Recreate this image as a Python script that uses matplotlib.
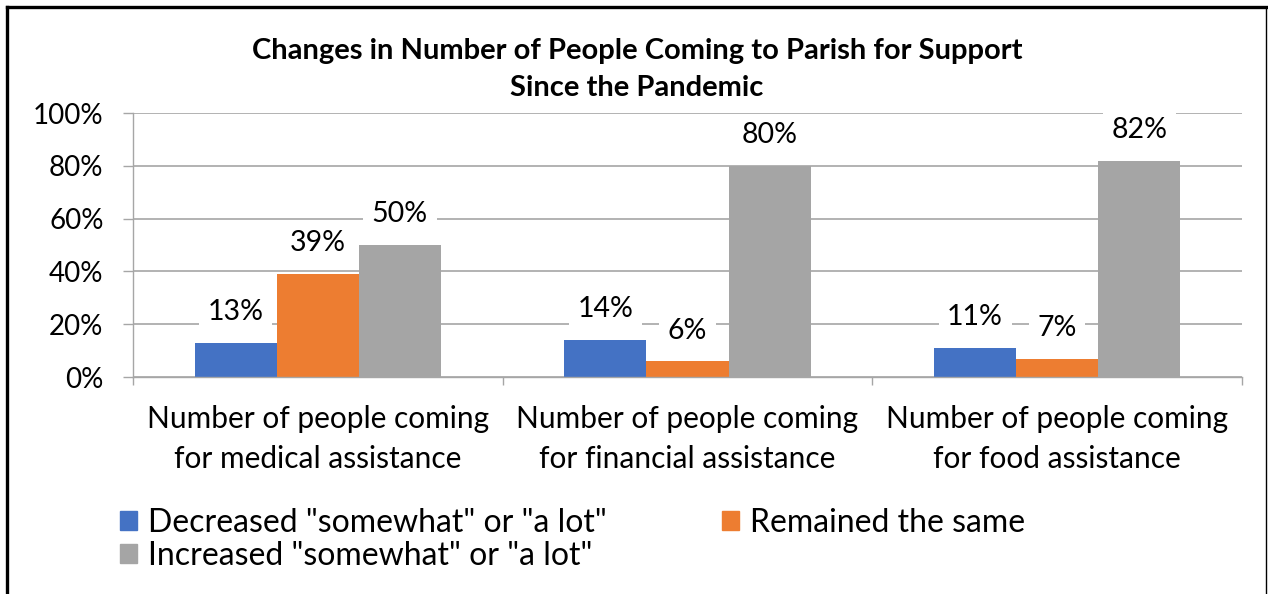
import matplotlib.pyplot as plt
import numpy as np
from matplotlib.patches import Patch
from matplotlib.lines import Line2D
from matplotlib.ticker import FixedLocator

plt.rcParams['font.family'] = ['Lato', 'DejaVu Sans']

categories = ['Number of people coming\nfor medical assistance',
              'Number of people coming\nfor financial assistance',
              'Number of people coming\nfor food assistance']
series_names = ['Decreased "somewhat" or "a lot"',
                'Remained the same',
                'Increased "somewhat" or "a lot"']
decreased = [13, 14, 11]
remained = [39, 6, 7]
increased = [50, 80, 82]
colors = ['#4472c4', '#ed7d31', '#a5a5a5']
yticks = [0, 20, 40, 60, 80, 100]

W, H = 1268, 594
fig = plt.figure(figsize=(W / 100, H / 100), dpi=100)
ax = fig.add_axes([133 / W, (H - 377) / H, (1242 - 133) / W, 264 / H])

x = np.arange(len(categories))
bw = 0.222
grid_c = '#a6a6a6'

for i, vals in enumerate([decreased, remained, increased]):
    bars = ax.bar(x + (i - 1) * bw, vals, bw, color=colors[i], zorder=2,
                  label=series_names[i])
    for b, v in zip(bars, vals):
        ax.annotate(f'{v}%', (b.get_x() + b.get_width() / 2, v),
                    xytext=(0, 22), textcoords='offset points',
                    ha='center', va='center', fontsize=20.5, zorder=4,
                    bbox=dict(boxstyle='square,pad=0.3', fc='white', ec='none'))

ax.set_xlim(-0.5, 2.5)
ax.set_ylim(0, 100)
ax.set_yticks(yticks)
ax.set_yticklabels([f'{t}%' for t in yticks])
ax.yaxis.grid(True, color=grid_c, lw=1.2, zorder=0)
ax.tick_params(axis='y', length=7.2, width=1.0, color=grid_c, pad=14,
               labelsize=20)

ax.set_xticks(x)
ax.set_xticklabels(categories, linespacing=1.5)
ax.tick_params(axis='x', which='major', length=0, pad=20.5, labelsize=21.5)
ax.xaxis.set_minor_locator(FixedLocator([-0.5, 0.5, 1.5, 2.5]))
ax.tick_params(axis='x', which='minor', length=6, width=1.0, color=grid_c)

for side in ['top', 'right']:
    ax.spines[side].set_visible(False)
for side in ['left', 'bottom']:
    ax.spines[side].set_color(grid_c)
    ax.spines[side].set_linewidth(1.0)

fig.text(637 / W, 1 - 51 / H, 'Changes in Number of People Coming to Parish for Support',
         ha='center', va='center', fontsize=21, fontweight='bold')
fig.text(637 / W, 1 - 88 / H, 'Since the Pandemic',
         ha='center', va='center', fontsize=21, fontweight='bold')

handles = [Patch(color=colors[0]), Patch(color=colors[2]), Patch(color=colors[1])]
labels = [series_names[0], series_names[2], series_names[1]]
fig.legend(handles, labels, ncol=2, loc='upper left',
           bbox_to_anchor=(120 / W, 1 - 508 / H), frameon=False,
           fontsize=23, handlelength=0.53, handleheight=0.53, handletextpad=0.35,
           columnspacing=3.6, labelspacing=0.1, borderaxespad=0, borderpad=0)

# outer border
fig.add_artist(Line2D([7 / W, 7 / W], [0, 1 - 7 / H], color='black', lw=2.4))
fig.add_artist(Line2D([7 / W, 1265.5 / W], [1 - 7 / H, 1 - 7 / H], color='black', lw=2.4))
fig.add_artist(Line2D([1265.5 / W, 1265.5 / W], [0, 1 - 7 / H], color='black', lw=1.0))

fig.savefig('out.png', dpi=100, facecolor='white')
